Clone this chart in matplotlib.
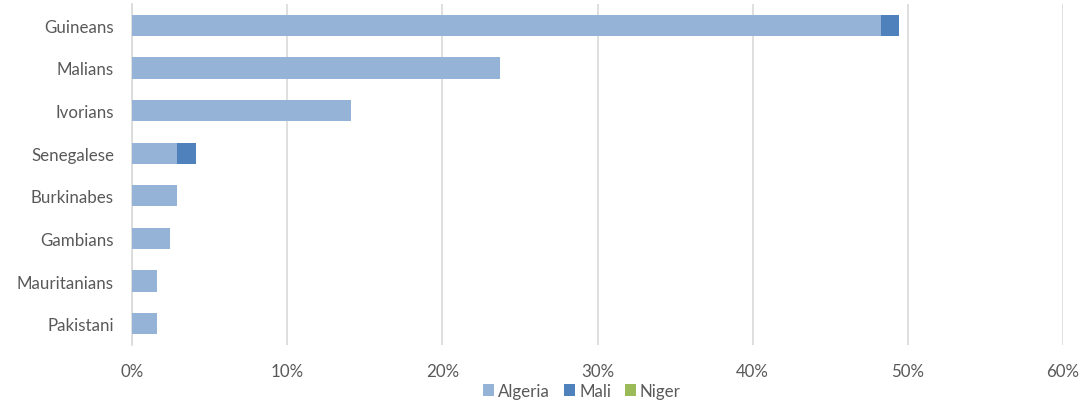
import matplotlib
matplotlib.use("Agg")
import matplotlib.pyplot as plt
import numpy as np
from matplotlib.ticker import FuncFormatter

categories = ["Guineans", "Malians", "Ivorians", "Senegalese", "Burkinabes",
              "Gambians", "Mauritanians", "Pakistani"]
algeria = [48.3, 23.7, 14.1, 2.9, 2.9, 2.45, 1.6, 1.6]
mali = [1.15, 0.0, 0.0, 1.25, 0.0, 0.0, 0.0, 0.0]
niger = [0.0, 0.0, 0.0, 0.0, 0.0, 0.0, 0.0, 0.0]
xticks = [0, 10, 20, 30, 40, 50, 60]

plt.rcParams['font.family'] = ['Lato', 'DejaVu Sans']
txt = '#595959'

fig = plt.figure(figsize=(10.89, 4.06), dpi=100)
ax = fig.add_axes([132/1089, 1 - 346/406, (1063-132)/1089, (346-5)/406])

y = np.arange(len(categories))
h = 0.5
a = np.array(algeria); m = np.array(mali); n = np.array(niger)
ax.barh(y, a, height=h, color='#95B3D7', label='Algeria', zorder=3)
ax.barh(y, m, left=a, height=h, color='#4F81BD', label='Mali', zorder=3)
ax.barh(y, n, left=a + m, height=h, color='#9BBB59', label='Niger', zorder=3)

ax.set_ylim(len(categories) - 0.5, -0.5)
ax.set_xlim(0, 60)
ax.set_xticks(xticks)
ax.xaxis.set_major_formatter(FuncFormatter(lambda v, p: f"{int(v)}%"))
ax.set_yticks(y)
ax.set_yticklabels(categories)
ax.grid(axis='x', color='#D9D9D9', linewidth=1.2, zorder=0)
for s in ['top', 'right', 'bottom']:
    ax.spines[s].set_visible(False)
ax.spines['left'].set_color('#D9D9D9')
ax.spines['left'].set_linewidth(1.2)
ax.tick_params(axis='both', length=0, labelsize=12.2, labelcolor=txt)
ax.tick_params(axis='x', pad=13)
ax.tick_params(axis='y', pad=13)

fig.legend(loc='center', bbox_to_anchor=(582/1089, 1 - 392/406), ncol=3,
           frameon=False, fontsize=12.2, labelcolor=txt, handlelength=0.65,
           handleheight=0.65, handletextpad=0.25, columnspacing=0.8)

fig.savefig("out.png", dpi=100)
